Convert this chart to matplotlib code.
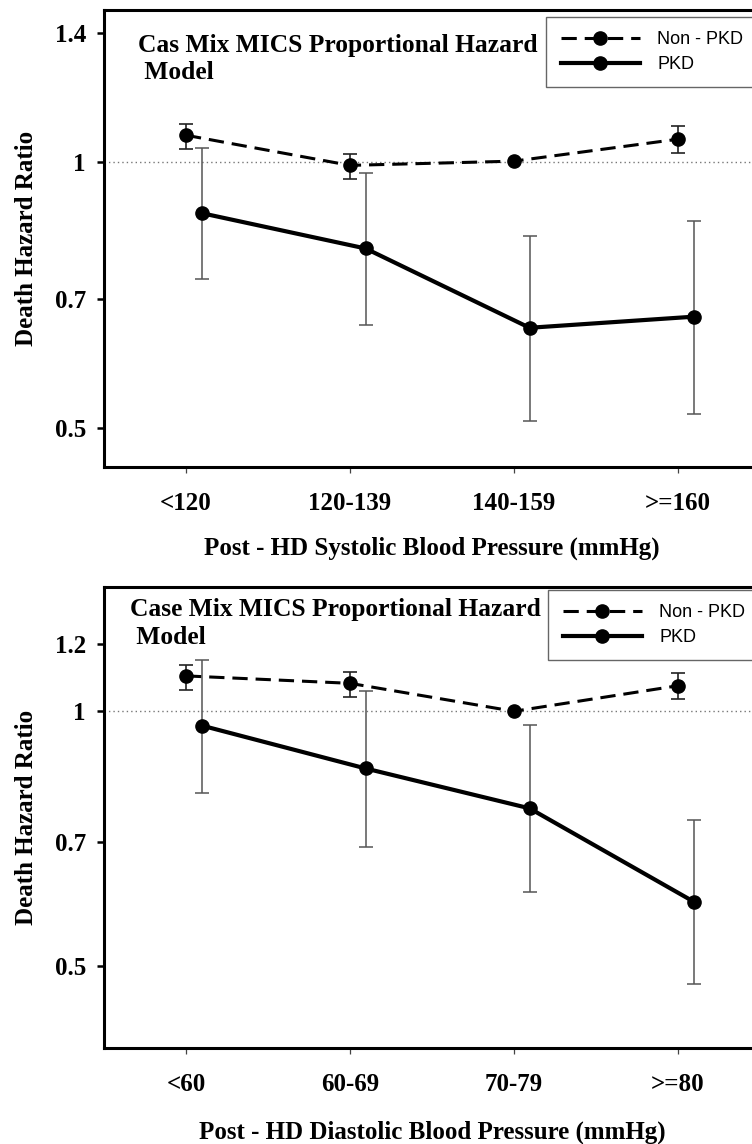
import numpy as np
import matplotlib
matplotlib.use('Agg')
import matplotlib.pyplot as plt
from matplotlib.ticker import FixedLocator, FixedFormatter, NullLocator

# Data (hazard ratio, lower and upper CI)
sys_labels = ['<120', '120-139', '140-159', '>=160']
sys_non_hr = [1.072, 0.991, 1.002, 1.061]
sys_non_lo = [1.035, 0.956, np.nan, 1.023]
sys_non_hi = [1.103, 1.021, np.nan, 1.099]
sys_pkd_hr = [0.875, 0.798, 0.649, 0.668]
sys_pkd_lo = [0.737, 0.653, 0.509, 0.518]
sys_pkd_hi = [1.036, 0.971, 0.824, 0.857]

dia_labels = ['<60', '60-69', '70-79', '>=80']
dia_non_hr = [1.101, 1.079, 1.000, 1.072]
dia_non_lo = [1.060, 1.039, np.nan, 1.033]
dia_non_hi = [1.133, 1.114, np.nan, 1.109]
dia_pkd_hr = [0.962, 0.856, 0.768, 0.596]
dia_pkd_lo = [0.800, 0.691, 0.611, 0.476]
dia_pkd_hi = [1.150, 1.058, 0.963, 0.745]

serif = 'Liberation Serif'
sans = 'Liberation Sans'


def panel(ax, labels, non_hr, non_lo, non_hi, pkd_hr, pkd_lo, pkd_hi,
          yticks, ylim, title, title_xy, leg_anchor, xlabel, xlabel_y):
    x = np.arange(len(labels))
    xp = x + 0.095
    non_hr, non_lo, non_hi = map(np.array, (non_hr, non_lo, non_hi))
    pkd_hr, pkd_lo, pkd_hi = map(np.array, (pkd_hr, pkd_lo, pkd_hi))

    ax.axhline(1, color='#777777', linestyle=(0, (1, 2.2)), lw=1.0, zorder=1)

    ax.errorbar(x, non_hr, yerr=[non_hr - non_lo, non_hi - non_hr], fmt='none',
                ecolor='#222222', elinewidth=1.2, capsize=5, capthick=1.2, zorder=2)
    ax.errorbar(xp, pkd_hr, yerr=[pkd_hr - pkd_lo, pkd_hi - pkd_hr], fmt='none',
                ecolor='#555555', elinewidth=1.1, capsize=5, capthick=1.1, zorder=2)

    ax.plot(x, non_hr, color='black', lw=2.2, linestyle=(0, (5, 2.6)),
            marker='o', markersize=9.5, label='Non - PKD', zorder=3)
    ax.plot(xp, pkd_hr, color='black', lw=3.0, linestyle='-',
            marker='o', markersize=9.5, label='PKD', zorder=3)

    ax.set_yscale('log')
    ax.set_ylim(*ylim)
    ax.set_xlim(-0.5, 3.5)
    ax.yaxis.set_major_locator(FixedLocator(yticks))
    ax.yaxis.set_major_formatter(FixedFormatter([f'{t:g}' for t in yticks]))
    ax.yaxis.set_minor_locator(NullLocator())
    ax.set_xticks(x)
    ax.set_xticklabels(labels)

    for s in ['left', 'bottom', 'top']:
        ax.spines[s].set_linewidth(2.2)
    ax.spines['right'].set_visible(False)
    ax.tick_params(axis='y', length=5, width=1.8, pad=8, labelsize=18)
    ax.tick_params(axis='x', length=4, width=0.9, color='#444444', pad=14, labelsize=18)
    for lab in ax.get_xticklabels() + ax.get_yticklabels():
        lab.set_fontfamily(serif)
        lab.set_fontweight('bold')

    ax.set_ylabel('Death Hazard Ratio', fontsize=18, fontweight='bold', family=serif)
    ax.yaxis.set_label_coords(-0.1, 0.5)
    ax.set_xlabel(xlabel, fontsize=18, fontweight='bold', family=serif)
    ax.xaxis.set_label_coords(0.5, xlabel_y)

    ax.text(title_xy[0], title_xy[1], title, transform=ax.transAxes, ha='left', va='top',
            fontsize=18.4, fontweight='bold', family=serif, linespacing=1.25)

    leg = ax.legend(loc='upper left', bbox_to_anchor=leg_anchor, frameon=True,
                    fancybox=False, framealpha=1, edgecolor='#666666',
                    prop={'family': sans, 'size': 13}, handlelength=4.4,
                    handletextpad=0.95, borderpad=0.8, labelspacing=0.42,
                    borderaxespad=0)
    leg.get_frame().set_linewidth(1.0)


fig = plt.figure(figsize=(7.52, 11.44), dpi=100)
ax1 = fig.add_axes([0.1383, 0.5918, 0.8723, 0.3995])
ax2 = fig.add_axes([0.1383, 0.0837, 0.8723, 0.4034])

panel(ax1, sys_labels, sys_non_hr, sys_non_lo, sys_non_hi,
      sys_pkd_hr, sys_pkd_lo, sys_pkd_hi,
      [0.5, 0.7, 1, 1.4], (0.4515, 1.486),
      'Cas Mix MICS Proportional Hazard\n Model', (0.052, 0.948), (0.674, 0.985),
      'Post - HD Systolic Blood Pressure (mmHg)', -0.153)
panel(ax2, dia_labels, dia_non_hr, dia_non_lo, dia_non_hi,
      dia_pkd_hr, dia_pkd_lo, dia_pkd_hi,
      [0.5, 0.7, 1, 1.2], (0.400, 1.403),
      'Case Mix MICS Proportional Hazard\n Model', (0.040, 0.975), (0.677, 0.993),
      'Post - HD Diastolic Blood Pressure (mmHg)', -0.156)

fig.savefig('out.png', dpi=100)
